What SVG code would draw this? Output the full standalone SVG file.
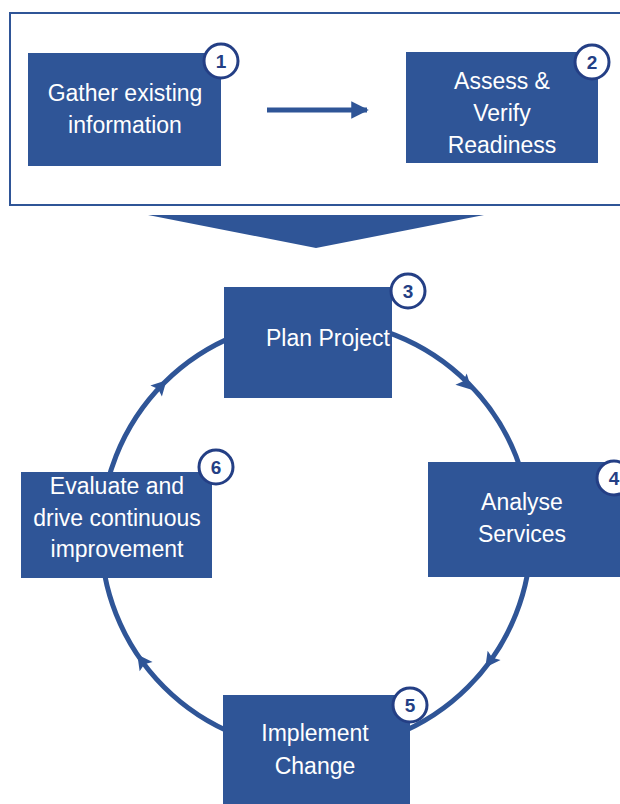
<svg xmlns="http://www.w3.org/2000/svg" width="620" height="804" viewBox="0 0 620 804">
<defs>
<style>
.box{fill:#2F5597}
.lbl{fill:#ffffff;font-family:"Liberation Sans",Arial,sans-serif;font-size:23px;text-anchor:middle}
.num circle{fill:#ffffff;stroke:#243F85;stroke-width:3}
.num text{fill:#243F85;font-family:"Liberation Sans",Arial,sans-serif;font-size:19px;font-weight:bold;text-anchor:middle}
.conn{fill:none;stroke:#2F5597;stroke-width:5}
.head{fill:#2F5597}
</style>
<path id="ah" d="M8,0 L-7,-8 L-4,0 L-7,8 Z"/>
<marker id="arr" viewBox="0 0 10 10" refX="9" refY="5" markerWidth="3.5" markerHeight="3.5" orient="auto" markerUnits="strokeWidth"><path d="M0,0 L10,5 L0,10 Z" fill="#2F5597"/></marker>
</defs>
<rect width="620" height="804" fill="#ffffff"/>
<rect id="frame" x="10" y="13" width="620" height="192" fill="none" stroke="#2F5597" stroke-width="2"/>
<polygon id="chevron" points="148,215 484,215 316,248" fill="#2F5597"/>
<g id="connectors">
<line class="conn" x1="267" y1="110" x2="367" y2="110" stroke-width="4" marker-end="url(#arr)"/>
<circle class="conn" cx="316" cy="535" r="215" stroke-width="5"/>
<use href="#ah" class="head" transform="translate(466,384) rotate(45)"/>
<use href="#ah" class="head" transform="translate(490,661) rotate(126)"/>
<use href="#ah" class="head" transform="translate(142,661) rotate(234)"/>
<use href="#ah" class="head" transform="translate(161,386) rotate(-46)"/>
</g>
<g id="n1"><rect class="box" x="28" y="53" width="193" height="113"/>
<text class="lbl" x="125" y="101">Gather existing</text><text class="lbl" x="125" y="133">information</text>
<g class="num"><circle cx="221" cy="61" r="17"/><text x="221" y="68">1</text></g></g>
<g id="n2"><rect class="box" x="406" y="52" width="192" height="111"/>
<text class="lbl" x="502" y="89">Assess &amp;</text><text class="lbl" x="502" y="121">Verify</text><text class="lbl" x="502" y="153">Readiness</text>
<g class="num"><circle cx="592" cy="62" r="17"/><text x="592" y="69">2</text></g></g>
<g id="n3"><rect class="box" x="224" y="287" width="168" height="111"/>
<text class="lbl" x="328" y="346">Plan Project</text>
<g class="num"><circle cx="408" cy="291" r="17"/><text x="408" y="298">3</text></g></g>
<g id="n4"><rect class="box" x="428" y="462" width="192" height="115"/>
<text class="lbl" x="522" y="510">Analyse</text><text class="lbl" x="522" y="542">Services</text>
<g class="num"><circle cx="614" cy="478" r="17"/><text x="614" y="485">4</text></g></g>
<g id="n5"><rect class="box" x="223" y="695" width="187" height="115"/>
<text class="lbl" x="315" y="741">Implement</text><text class="lbl" x="315" y="774">Change</text>
<g class="num"><circle cx="410" cy="705" r="17"/><text x="410" y="712">5</text></g></g>
<g id="n6"><rect class="box" x="21" y="472" width="191" height="106"/>
<text class="lbl" x="117" y="494">Evaluate and</text><text class="lbl" x="117" y="526">drive continuous</text><text class="lbl" x="117" y="557">improvement</text>
<g class="num"><circle cx="216" cy="467" r="17"/><text x="216" y="474">6</text></g></g>
</svg>
